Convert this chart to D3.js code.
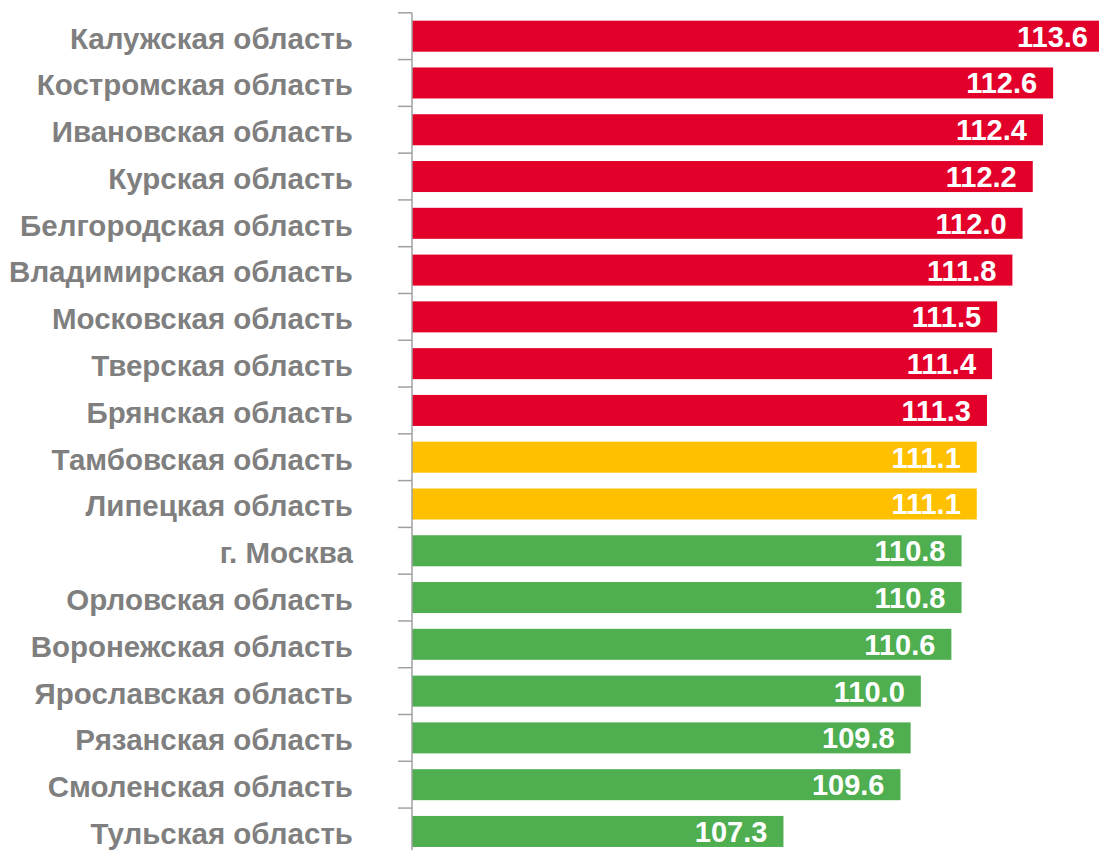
<!DOCTYPE html>
<html>
<head>
<meta charset="utf-8">
<script src="https://cdn.jsdelivr.net/npm/d3@7"></script>
<style>
  html, body { margin: 0; padding: 0; background: #fff; }
  svg { display: block; }
</style>
</head>
<body>
<svg id="chart"></svg>
<script>
// regions, top to bottom
const regions = [
  "Калужская область", "Костромская область", "Ивановская область",
  "Курская область", "Белгородская область", "Владимирская область",
  "Московская область", "Тверская область", "Брянская область",
  "Тамбовская область", "Липецкая область", "г. Москва",
  "Орловская область", "Воронежская область", "Ярославская область",
  "Рязанская область", "Смоленская область", "Тульская область"
];
const values = [
  113.6, 112.6, 112.4, 112.2, 112.0, 111.8, 111.5, 111.4, 111.3,
  111.1, 111.1, 110.8, 110.8, 110.6, 110.0, 109.8, 109.6, 107.3
];
// colour group per region
const groups = [
  "high", "high", "high", "high", "high", "high", "high", "high", "high",
  "mid", "mid", "low", "low", "low", "low", "low", "low", "low"
];

const data = regions.map((r, i) => ({ region: r, value: values[i], group: groups[i] }));

const width = 1099, height = 850;
const colors = { high: "#E2002B", mid: "#FFC000", low: "#4EAE50" };

const svg = d3.select("#chart").attr("width", width).attr("height", height);

const x = d3.scaleLinear().domain([100, 113.6]).range([412, 1104]);
const y = d3.scaleBand()
  .domain(regions)
  .range([12.8, 12.8 + 18 * 46.78])
  .paddingInner(0.337)
  .paddingOuter(0.337 / 2);

// bars
svg.append("g")
  .selectAll("rect")
  .data(data)
  .join("rect")
  .attr("x", x(100))
  .attr("y", d => y(d.region))
  .attr("width", d => x(d.value) - x(100))
  .attr("height", y.bandwidth())
  .attr("fill", d => colors[d.group]);

// value labels inside bars
svg.append("g")
  .selectAll("text")
  .data(data)
  .join("text")
  .attr("x", d => x(d.value) - 16)
  .attr("y", d => y(d.region) + y.bandwidth() / 2)
  .attr("dy", "0.36em")
  .attr("text-anchor", "end")
  .style("font-family", "'Liberation Sans', Arial, sans-serif")
  .style("font-weight", "bold")
  .style("font-size", "29px")
  .style("fill", "#fff")
  .text(d => d.value.toFixed(1));

// category axis with ticks at band boundaries
const axisColor = "#A0A0A0";
const axis = svg.append("g");
axis.append("line")
  .attr("x1", 412).attr("x2", 412)
  .attr("y1", y.range()[0]).attr("y2", height)
  .attr("stroke", axisColor).attr("stroke-width", 1.5);

const step = y.step();
axis.selectAll("line.tick")
  .data(regions)
  .join("line")
  .attr("class", "tick")
  .attr("x1", 398).attr("x2", 412)
  .attr("y1", (d, i) => y.range()[0] + i * step)
  .attr("y2", (d, i) => y.range()[0] + i * step)
  .attr("stroke", axisColor).attr("stroke-width", 1.5);

axis.selectAll("text")
  .data(regions)
  .join("text")
  .attr("x", 353)
  .attr("y", d => y(d) + y.bandwidth() / 2)
  .attr("dy", "0.42em")
  .attr("text-anchor", "end")
  .style("font-family", "'Liberation Sans', Arial, sans-serif")
  .style("font-weight", "bold")
  .style("font-size", "29.5px")
  .style("fill", "#7F7F7F")
  .text(d => d);
</script>
</body>
</html>
